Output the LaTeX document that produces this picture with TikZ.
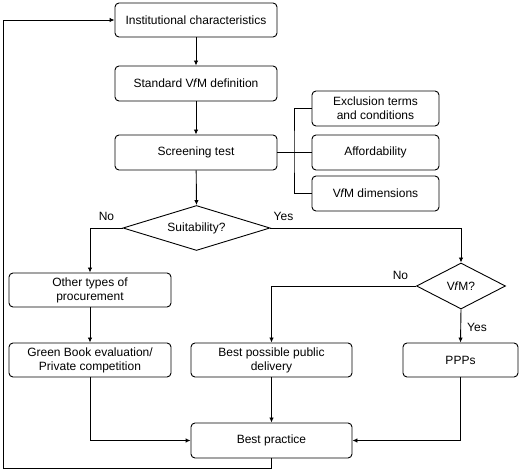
\documentclass[tikz,border=0pt]{standalone}
\usepackage{fontspec}
\setmainfont{Liberation Sans}
\usetikzlibrary{shapes.geometric,arrows.meta}
\begin{document}
\begin{tikzpicture}[x=1pt,y=-1pt,
  font=\fontsize{12}{14}\selectfont,
  line width=0.9pt,
  box/.style={draw, rounded corners=4pt, fill=white, align=center, inner sep=0pt},
  decision/.style={draw, diamond, fill=white, inner sep=0pt, align=center},
  arr/.style={-{Latex[length=5pt,width=4.5pt]}},
  lbl/.style={inner sep=0pt}]
\useasboundingbox (0,0) rectangle (520,470);
% main column
\node[box, minimum width=162, minimum height=34] (inst) at (196,20) {Institutional characteristics};
\node[box, minimum width=162, minimum height=35] (std) at (196,83.5) {Standard V\kern-0.5pt\textit{f}\kern-0.5pt M definition};
\node[box, minimum width=162, minimum height=35] (screen) at (196,152.5) {Screening test};
% side boxes
\node[box, minimum width=127, minimum height=35] (excl) at (375.5,108.5) {Exclusion terms\\and conditions};
\node[box, minimum width=127, minimum height=35] (aff) at (375.5,152.5) {Affordability};
\node[box, minimum width=127, minimum height=35] (dim) at (375.5,193.5) {V\kern-0.5pt\textit{f}\kern-0.5pt M dimensions};
% decisions
\node[decision, aspect=3.27, minimum width=147, minimum height=45] (suit) at (196.5,228) {Suitability?};
\node[decision, aspect=1.93, minimum width=89, minimum height=46] (vfm) at (461,286) {V\kern-0.5pt\textit{f}\kern-0.5pt M?};
% lower boxes
\node[box, minimum width=162, minimum height=34] (other) at (90,290) {Other types of\\procurement};
\node[box, minimum width=162, minimum height=34] (green) at (90,360) {Green Book evaluation/\\Private competition};
\node[box, minimum width=161, minimum height=34] (pub) at (271.5,360) {Best possible public\\delivery};
\node[box, minimum width=115, minimum height=34] (ppp) at (460.5,360) {PPPs};
\node[box, minimum width=161, minimum height=35] (prac) at (271.5,440.5) {Best practice};
% coordinates
\coordinate (br) at (294,152.5);
\coordinate (fbA) at (271.5,468);
\coordinate (fbB) at (3,468);
\coordinate (fbC) at (3,20);
% connectors
\draw[arr] (inst) -- (std);
\draw[arr] (std) -- (screen);
\draw[arr] (screen) -- (suit.north);
\draw (screen.east) -- (aff.west);
\draw (excl.west) -| (br) |- (dim.west);
\draw[arr] (suit.west) -| (other.north);
\draw[arr] (suit.east) -| (vfm.north);
\draw[arr] (vfm.west) -| (pub.north);
\draw[arr] (vfm.south) -- (ppp.north);
\draw[arr] (other) -- (green);
\draw[arr] (green.south) |- (prac.west);
\draw[arr] (pub) -- (prac);
\draw[arr] (ppp.south) |- (prac.east);
\draw[arr] (prac.south) -- (fbA) -- (fbB) -- (fbC) -- (inst.west);
% labels
\node[lbl] (l1) at (106.5,216.5) {No};
\node[lbl] (l2) at (283.5,216.5) {Yes};
\node[lbl] (l3) at (400.5,275) {No};
\node[lbl] (l4) at (477,327) {Yes};
\end{tikzpicture}
\end{document}
